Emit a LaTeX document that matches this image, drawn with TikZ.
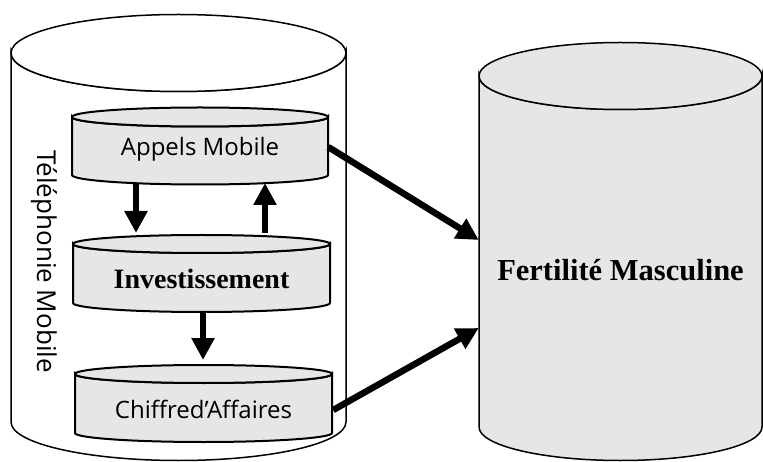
\documentclass[tikz,border=0pt]{standalone}
\usepackage{fontspec}
\setmainfont{Liberation Serif}
\newfontfamily\uifont{Open Sans}
\usetikzlibrary{arrows.meta,calc}
\definecolor{cylgray}{HTML}{E6E6E6}
\newcommand\drawcyl[6]{%
  \path[#6] ({#1-#4},#2) -- ({#1-#4},#3)
    arc[start angle=180,end angle=0,x radius=#4,y radius=#5]
    -- ({#1+#4},#2)
    arc[start angle=0,end angle=180,x radius=#4,y radius=#5] -- cycle;
  \path[#6] (#1,#2) ellipse[x radius=#4,y radius=#5];
}
\tikzset{
  bigcyl/.style={draw=black,line width=1.5pt},
  smallcyl/.style={draw=black,line width=2pt,fill=cylgray},
  label/.style={inner sep=0pt,minimum height=20pt},
  uitext/.style={label,font=\uifont\fontsize{24}{28}\selectfont},
  bftext/.style={label,font=\bfseries\fontsize{28}{33}\selectfont},
  thick arrow/.style={line width=6.5pt,-{Triangle[length=22pt,width=22pt]}}
}
\begin{document}
\begin{tikzpicture}[x=1pt,y=-1pt]
\useasboundingbox (0,0) rectangle (763,462);
% large cylinders
\drawcyl{178.5}{53}{422}{167.5}{38.5}{bigcyl,fill=white}
\drawcyl{620.5}{76}{427}{141.5}{33.5}{bigcyl,fill=cylgray}
% small cylinders
\drawcyl{200}{117}{175}{128}{9.5}{smallcyl}
\drawcyl{201.5}{244}{303}{128.5}{9}{smallcyl}
\drawcyl{203.5}{374}{433}{128.5}{9}{smallcyl}
% texts
\node[uitext,minimum width=256pt] (appels) at (200,149) {Appels Mobile};
\node[bftext,minimum width=257pt] (invest) at (201.5,279) {Investissement};
\node[uitext,minimum width=257pt] (chiffre) at (203.5,409) {Chiffred’Affaires};
\node[label,minimum width=283pt,font=\bfseries\fontsize{30.5}{36}\selectfont] (fert) at (620.5,270) {Fertilité Masculine};
\node[uitext,rotate=-90,font=\uifont\fontsize{26}{30}\selectfont] (tel) at (44,261.5) {Téléphonie Mobile};
% arrows
\draw[thick arrow] ([shift={(-64,34)}]appels.center) -- ([shift={(-65.5,-46)}]invest.center);
\draw[thick arrow] ([shift={(63.5,-46)}]invest.center) -- ([shift={(65,34)}]appels.center);
\draw[thick arrow] ([shift={(1.5,33)}]invest.center) -- ([shift={(-0.5,-49)}]chiffre.center);
\draw[thick arrow] ([yshift=2pt]appels.east) -- ([yshift=30pt]fert.west);
\draw[thick arrow] ([xshift=1pt,yshift=-1pt]chiffre.east) -- ([yshift=-58pt]fert.west);
\end{tikzpicture}
\end{document}
